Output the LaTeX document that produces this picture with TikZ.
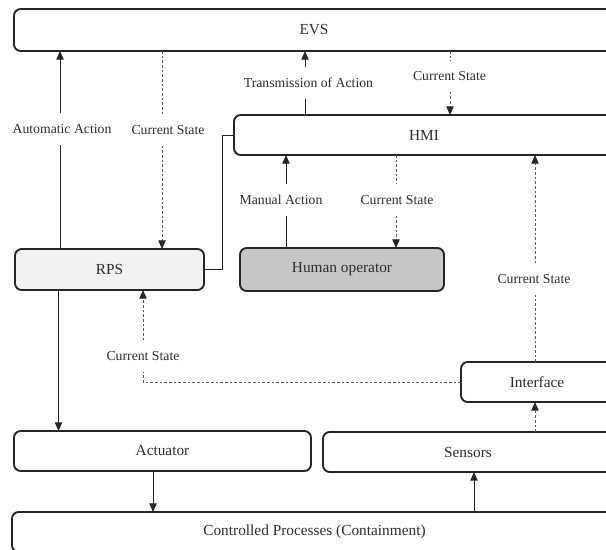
\documentclass[tikz,border=0pt]{standalone}
\usepackage{fontspec}
\setmainfont{Liberation Serif}
\usetikzlibrary{arrows.meta}
\definecolor{rpsfill}{HTML}{F2F2F2}
\definecolor{humfill}{HTML}{C6C6C6}
\definecolor{ink}{HTML}{262626}
\definecolor{txt}{HTML}{2E2E2E}
\begin{document}
\begin{tikzpicture}[x=0.75pt,y=-0.75pt,
  box/.style={draw=ink, line width=1.4pt, rounded corners=5pt, inner sep=0pt, outer sep=0pt,
    text=txt, fill=white, font=\fontsize{11.5}{13}\selectfont},
  lbl/.style={fill=white, inner xsep=1.5pt, inner ysep=0pt, minimum height=23pt,
    text=txt, font=\fontsize{10.3}{12}\selectfont},
  tip/.style={-{Triangle[length=6.5pt,width=5.5pt,color=ink]}},
  ln/.style={line width=0.7pt, draw=ink},
  arr/.style={ln, tip},
  dsh/.style={line width=0.7pt, draw=black!65, dash pattern=on 2pt off 1.5pt},
  darr/.style={dsh, tip}]
\useasboundingbox (0,0) rectangle (606,549);
\fill[white] (0,0) rectangle (606,549);
\clip (0,0) rectangle (606,549);

% boxes
\node[box, minimum width=600*0.75pt, minimum height=42*0.75pt] (EVS) at (314,30) {EVS};
\node[box, minimum width=380*0.75pt, minimum height=40*0.75pt] (HMI) at (424,135) {HMI};
\node[box, fill=rpsfill, minimum width=189*0.75pt, minimum height=41*0.75pt] (RPS) at (109.5,269.5) {RPS};
\node[box, fill=humfill, minimum width=204*0.75pt, minimum height=43*0.75pt] (HUM) at (342,269.5) {Human operator};
\node[box, minimum width=152*0.75pt, minimum height=40*0.75pt] (INT) at (537,382) {Interface};
\node[box, minimum width=297*0.75pt, minimum height=40*0.75pt] (ACT) at (162.5,451) {Actuator};
\node[box, minimum width=290*0.75pt, minimum height=40*0.75pt] (SEN) at (468,452) {Sensors};
\node[box, minimum width=605*0.75pt, minimum height=40*0.75pt] (CP) at (314.5,532) {Controlled Processes (Containment)};

% x positions of connectors
\coordinate (xA) at (60,0);
\coordinate (xA2) at (58.5,0);
\coordinate (xB) at (162,0);
\coordinate (xC) at (305,0);
\coordinate (xD) at (450,0);
\coordinate (xR) at (222,0);
\coordinate (xM) at (286,0);
\coordinate (xH) at (396,0);
\coordinate (xI) at (535,0);
\coordinate (xE) at (143,0);
\coordinate (xF) at (153,0);
\coordinate (xG) at (474,0);

% labels
\node[lbl] (lAuto) at (62,129) {Automatic Action};
\node[lbl] (lCS1) at (168,130) {Current State};
\node[lbl] (lTr) at (308.5,83) {Transmission of Action};
\node[lbl] (lCS2) at (449.5,76) {Current State};
\node[lbl] (lMan) at (281,200) {Manual Action};
\node[lbl] (lCS3) at (397,200) {Current State};
\node[lbl] (lCS4) at (534,279) {Current State};
\node[lbl] (lCS5) at (143,356) {Current State};

% RPS <-> EVS
\draw[ln] (xA |- RPS.north) -- (xA |- lAuto.south);
\draw[arr] (xA |- lAuto.north) -- (xA |- EVS.south);
\draw[dsh] (xB |- EVS.south) -- (xB |- lCS1.north);
\draw[darr] (xB |- lCS1.south) -- (xB |- RPS.north);

% HMI <-> EVS
\draw[ln] (xC |- HMI.north) -- (xC |- lTr.south);
\draw[arr] (xC |- lTr.north) -- (xC |- EVS.south);
\draw[dsh] (xD |- EVS.south) -- (xD |- lCS2.north);
\draw[darr] (xD |- lCS2.south) -- (xD |- HMI.north);

% RPS - HMI
\draw[ln] (RPS.east) -- (xR |- RPS.east) |- (HMI.west);

% Human <-> HMI
\draw[ln] (xM |- HUM.north) -- (xM |- lMan.south);
\draw[arr] (xM |- lMan.north) -- (xM |- HMI.south);
\draw[dsh] (xH |- HMI.south) -- (xH |- lCS3.north);
\draw[darr] (xH |- lCS3.south) -- (xH |- HUM.north);

% Interface -> HMI
\draw[dsh] (xI |- INT.north) -- (xI |- lCS4.south);
\draw[darr] (xI |- lCS4.north) -- (xI |- HMI.south);

% Interface -> RPS
\draw[dsh] (INT.west) -- (xE |- INT.west) -- (xE |- lCS5.south);
\draw[darr] (xE |- lCS5.north) -- (xE |- RPS.south);

% RPS -> Actuator -> Process -> Sensors -> Interface
\draw[arr] (xA2 |- RPS.south) -- (xA2 |- ACT.north);
\draw[arr] (xF |- ACT.south) -- (xF |- CP.north);
\draw[arr] (xG |- CP.north) -- (xG |- SEN.south);
\draw[darr] (xI |- SEN.north) -- (xI |- INT.south);
\end{tikzpicture}
\end{document}
